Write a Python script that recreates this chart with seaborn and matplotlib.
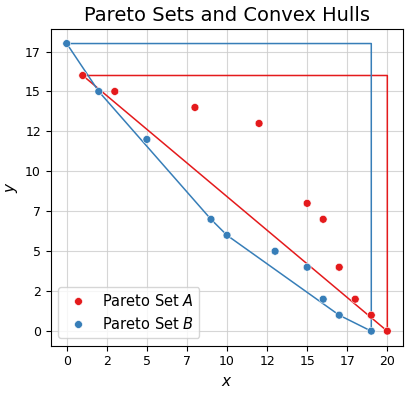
import numpy as np
import pandas as pd
import matplotlib
matplotlib.use("Agg")
import matplotlib.pyplot as plt
from matplotlib.ticker import FormatStrFormatter, MultipleLocator
import seaborn as sns

# Data
a_x = [1, 3, 8, 12, 15, 16, 17, 18, 19, 20]
a_y = [16, 15, 14, 13, 8, 7, 4, 2, 1, 0]
b_x = [0, 2, 5, 9, 10, 13, 15, 16, 17, 19]
b_y = [18, 15, 12, 7, 6, 5, 4, 2, 1, 0]
labels = ["Pareto Set $A$", "Pareto Set $B$"]
colors = ["#e41a1c", "#377eb8"]


def hull(xs, ys):
    pts = sorted(set(zip(xs, ys)) | {(max(xs), max(ys))})

    def cross(o, a, b):
        return (a[0] - o[0]) * (b[1] - o[1]) - (a[1] - o[1]) * (b[0] - o[0])

    lower, upper = [], []
    for p in pts:
        while len(lower) >= 2 and cross(lower[-2], lower[-1], p) <= 0:
            lower.pop()
        lower.append(p)
    for p in reversed(pts):
        while len(upper) >= 2 and cross(upper[-2], upper[-1], p) <= 0:
            upper.pop()
        upper.append(p)
    h = lower[:-1] + upper[:-1]
    h.append(h[0])
    return np.array(h)


df = pd.DataFrame({
    "x": a_x + b_x,
    "y": a_y + b_y,
    "set": [labels[0]] * len(a_x) + [labels[1]] * len(b_x),
})

fig = plt.figure(figsize=(4.12, 3.94), dpi=100)
ax = fig.add_axes([0.123, 0.123, 0.856, 0.803])

for xs, ys, c in [(a_x, a_y, colors[0]), (b_x, b_y, colors[1])]:
    h = hull(xs, ys)
    ax.plot(h[:, 0], h[:, 1], color=c, lw=1.1, zorder=2)

sns.scatterplot(data=df, x="x", y="y", hue="set", palette=colors, s=32,
                edgecolor="white", linewidth=0.4, ax=ax, zorder=3)

ax.xaxis.set_major_locator(MultipleLocator(2.5))
ax.yaxis.set_major_locator(MultipleLocator(2.5))
ax.xaxis.set_major_formatter(FormatStrFormatter("%d"))
ax.yaxis.set_major_formatter(FormatStrFormatter("%d"))
ax.set_xlim(-1, 21)
ax.set_ylim(-0.9, 18.9)
ax.grid(True, color="#cccccc", lw=0.8, alpha=0.8)
ax.set_axisbelow(True)
ax.tick_params(labelsize=9)
ax.set_xlabel("$x$", fontsize=11)
ax.set_ylabel("$y$", fontsize=11)
ax.set_title("Pareto Sets and Convex Hulls", fontsize=14)
ax.legend(loc="lower left", fontsize=10.5, title=None, handletextpad=0.6)

fig.savefig("out.png", dpi=100)
